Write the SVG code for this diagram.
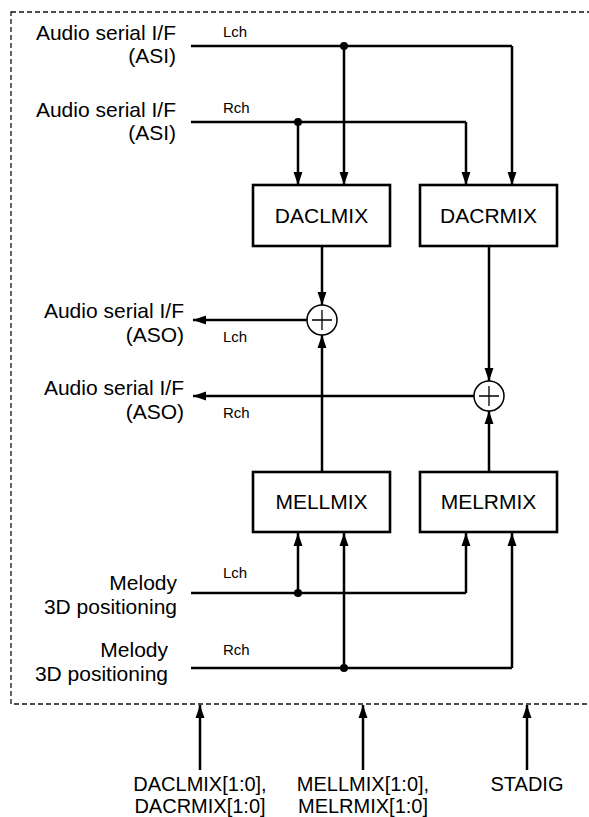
<svg xmlns="http://www.w3.org/2000/svg" width="589" height="817" viewBox="0 0 589 817">
<style>
text{font-family:"Liberation Sans",Arial,sans-serif;fill:#000}
.big{font-size:21px}
.sm{font-size:15px}
.bot{font-size:20px;text-anchor:middle}
.r{text-anchor:end}
.box{fill:#fff;stroke:#000;stroke-width:2.6}
.ln{fill:none;stroke:#000;stroke-width:2.5}
.arr{fill:none;stroke:#000;stroke-width:2.5;marker-end:url(#ah)}
.dot{fill:#000}
.sum{fill:#fff;stroke:#000;stroke-width:1.5}
.bl{text-anchor:middle;font-size:21px}
</style>
<defs>
<marker id="ah" viewBox="0 0 13 10" refX="13" refY="5" markerWidth="13" markerHeight="10" markerUnits="userSpaceOnUse" orient="auto">
<path d="M0,0.5 L13,5 L0,9.5 Z" fill="#000"/>
</marker>
</defs>
<rect x="11" y="12" width="590" height="692" fill="none" stroke="#111" stroke-width="1.3" stroke-dasharray="5,3"/>

<g id="labels">
<text class="big r" x="176" y="40">Audio serial I/F</text>
<text class="big r" x="176" y="63">(ASI)</text>
<text class="sm" x="223" y="37">Lch</text>
<text class="big r" x="176" y="117">Audio serial I/F</text>
<text class="big r" x="176" y="140">(ASI)</text>
<text class="sm" x="223" y="113">Rch</text>
<text class="big r" x="184" y="318">Audio serial I/F</text>
<text class="big r" x="184" y="342">(ASO)</text>
<text class="sm" x="223" y="342">Lch</text>
<text class="big r" x="184" y="395">Audio serial I/F</text>
<text class="big r" x="184" y="419">(ASO)</text>
<text class="sm" x="223" y="418">Rch</text>
<text class="big r" x="177" y="590">Melody</text>
<text class="big r" x="177" y="614">3D positioning</text>
<text class="sm" x="223" y="578">Lch</text>
<text class="big r" x="168" y="657">Melody</text>
<text class="big r" x="168" y="681">3D positioning</text>
<text class="sm" x="223" y="655">Rch</text>
<text class="bot" x="200" y="791">DACLMIX[1:0],</text>
<text class="bot" x="200" y="813">DACRMIX[1:0]</text>
<text class="bot" x="363" y="791">MELLMIX[1:0],</text>
<text class="bot" x="363" y="813">MELRMIX[1:0]</text>
<text class="bot" x="527" y="791">STADIG</text>
</g>

<g id="connectors">
<path class="ln" d="M191,46 H512"/>
<path class="arr" d="M512,46 V185"/>
<path class="arr" d="M344,46 V185"/>
<path class="ln" d="M191,122 H466"/>
<path class="arr" d="M466,122 V185"/>
<path class="arr" d="M298,122 V185"/>
<circle class="dot" cx="344" cy="46" r="4"/>
<circle class="dot" cx="298" cy="122" r="4"/>

<path class="arr" d="M322,247 V305"/>
<path class="arr" d="M489,247 V381"/>
<path class="arr" d="M322,471 V335"/>
<path class="arr" d="M489,471 V411"/>
<path class="arr" d="M307,320 H193"/>
<path class="arr" d="M474,396 H193"/>

<path class="ln" d="M191,593 H466"/>
<path class="arr" d="M466,593 V533"/>
<path class="arr" d="M298,593 V533"/>
<path class="ln" d="M191,668 H512"/>
<path class="arr" d="M512,668 V533"/>
<path class="arr" d="M344,668 V533"/>
<circle class="dot" cx="298" cy="593" r="4"/>
<circle class="dot" cx="344" cy="668" r="4"/>

<path class="arr" d="M200,770 V705"/>
<path class="arr" d="M363,770 V705"/>
<path class="arr" d="M527,770 V705"/>
</g>

<g id="sumL">
<circle class="sum" cx="322" cy="320" r="15"/>
<path d="M312,320 H332 M322,310 V330" stroke="#000" stroke-width="1.3"/>
</g>
<g id="sumR">
<circle class="sum" cx="489" cy="396" r="15"/>
<path d="M479,396 H499 M489,386 V406" stroke="#000" stroke-width="1.3"/>
</g>

<g id="DACLMIX">
<rect class="box" x="253" y="185" width="137" height="61"/>
<text class="bl" x="321.5" y="223">DACLMIX</text>
</g>
<g id="DACRMIX">
<rect class="box" x="420" y="185" width="137" height="61"/>
<text class="bl" x="488.5" y="223">DACRMIX</text>
</g>
<g id="MELLMIX">
<rect class="box" x="253" y="472" width="137" height="60"/>
<text class="bl" x="321.5" y="509">MELLMIX</text>
</g>
<g id="MELRMIX">
<rect class="box" x="420" y="472" width="137" height="60"/>
<text class="bl" x="488.5" y="509">MELRMIX</text>
</g>
</svg>
